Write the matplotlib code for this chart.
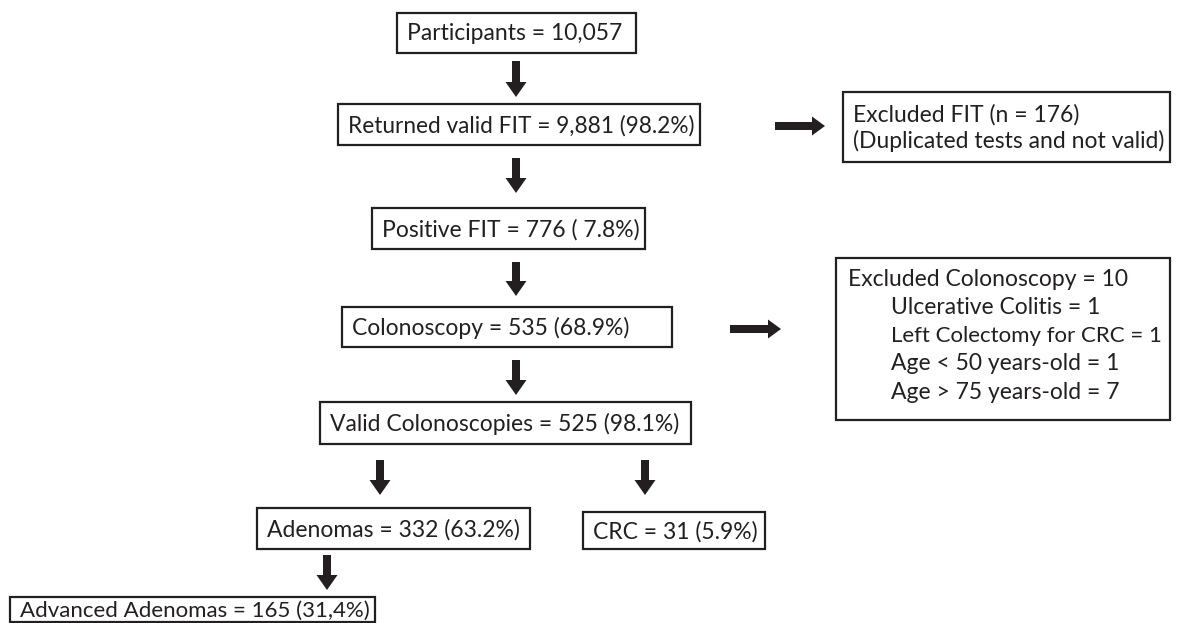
import matplotlib
matplotlib.use("Agg")
import matplotlib.pyplot as plt
from matplotlib.patches import Rectangle

# Flowchart content
box_labels = [
    "Participants = 10,057",
    "Returned valid FIT = 9,881 (98.2%)",
    "Excluded FIT (n = 176)\n(Duplicated tests and not valid)",
    "Positive FIT = 776 ( 7.8%)",
    "Colonoscopy = 535 (68.9%)",
    "Excluded Colonoscopy = 10",
    "Valid Colonoscopies = 525 (98.1%)",
    "Adenomas = 332 (63.2%)",
    "CRC = 31 (5.9%)",
    "Advanced Adenomas = 165 (31,4%)",
]
excl_colon_items = [
    "Ulcerative Colitis = 1",
    "Left Colectomy for CRC = 1",
    "Age < 50 years-old = 1",
    "Age > 75 years-old = 7",
]

# layout (pixels, y downwards): left, top, right, bottom
box_pos = [
    (397, 13, 636, 53),
    (338, 104, 700, 145),
    (843, 92, 1170, 162),
    (372, 208, 645, 249),
    (342, 307, 672, 347),
    (836, 258, 1170, 420),
    (320, 402, 691, 444),
    (257, 508, 530, 549),
    (583, 512, 765, 549),
    (10, 597, 375, 622),
]
down_arrows = [(516, 61, 97), (516, 158, 193), (516, 262, 296), (516, 360, 395),
               (380, 460, 495), (645, 460, 495), (327, 555, 590)]
right_arrows = [(775, 825, 126), (730, 781, 329)]

W, H = 1179, 623
fig = plt.figure(figsize=(W / 100, H / 100), dpi=100)
ax = fig.add_axes([0, 0, 1, 1])
ax.set_xlim(0, W)
ax.set_ylim(H, 0)
ax.axis("off")

col = "#231f20"
font = ["Lato", "DejaVu Sans"]
fs = 16.5
renderer = fig.canvas.get_renderer()


def put(x, y, s, right):
    # shrink text until it stays inside the box
    t = ax.text(x, y, s, fontsize=fs, family=font, color=col, va="center",
                ha="left", linespacing=1.25)
    size = fs
    while t.get_window_extent(renderer).x1 > right - 5 and size > 10:
        size -= 0.25
        t.set_fontsize(size)
    return t


for i, (lab, (x0, y0, x1, y1)) in enumerate(zip(box_labels, box_pos)):
    ax.add_patch(Rectangle((x0, y0), x1 - x0, y1 - y0, fill=False,
                           edgecolor=col, linewidth=1.6))
    if i == 5:
        # box with indented sub-items
        put(x0 + 12, y0 + 21, lab, x1)
        for k, item in enumerate(excl_colon_items):
            put(x0 + 55, y0 + 21 + 28.3 * (k + 1), item, x1)
        continue
    put(x0 + 10, (y0 + y1) / 2 + 1, lab, x1)

for x, ya, yb in down_arrows:
    ax.arrow(x, ya, 0, yb - ya, width=8, head_width=21, head_length=15,
             length_includes_head=True, color=col, linewidth=0)

for xa, xb, y in right_arrows:
    ax.arrow(xa, y, xb - xa, 0, width=8, head_width=19, head_length=13,
             length_includes_head=True, color=col, linewidth=0)

fig.savefig("out.png", dpi=100)
